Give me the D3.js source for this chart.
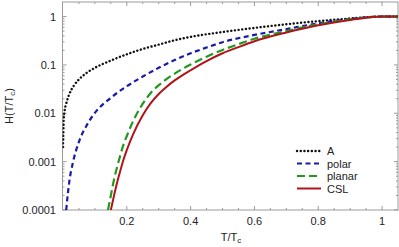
<!DOCTYPE html>
<meta charset="utf-8">
<script src="https://d3js.org/d3.v7.min.js"></script>
<style>
    body { margin: 0; background: white; }
    text { font-family: "Liberation Sans", Arial, sans-serif; }
</style>
<body>
<div id="chart"></div>
<script>
    var width = 399, height = 247;
    var plotLeft = 62.5, plotRight = 398, plotTop = 2, plotBottom = 210;

    // T/Tc grid and H values
    var tA = [0, 0.002, 0.005, 0.01, 0.02, 0.035, 0.05, 0.075, 0.1, 0.15, 0.2, 0.25, 0.3, 0.35, 0.4, 0.5, 0.6, 0.7, 0.8, 0.9, 1.0, 1.05];
    var hA = [0.002, 0.0071, 0.0112, 0.0158, 0.0251, 0.038, 0.0501, 0.0692, 0.0871, 0.123, 0.166, 0.214, 0.263, 0.324, 0.38, 0.479, 0.582, 0.692, 0.804, 0.912, 1.0, 1.0];

    var tPolar = [0.01, 0.02, 0.03, 0.05, 0.075, 0.1, 0.15, 0.2, 0.25, 0.3, 0.35, 0.4, 0.45, 0.5, 0.6, 0.7, 0.8, 0.9, 1.0, 1.05];
    var hPolar = [0.0001, 0.000398, 0.000891, 0.00257, 0.00575, 0.0102, 0.0209, 0.0363, 0.0575, 0.0871, 0.126, 0.174, 0.229, 0.295, 0.417, 0.55, 0.724, 0.891, 1.0, 1.0];

    var tPlanar = [0.141, 0.15, 0.16, 0.17, 0.18, 0.19, 0.2, 0.22, 0.25, 0.275, 0.3, 0.325, 0.35, 0.375, 0.4, 0.45, 0.5, 0.55, 0.6, 0.7, 0.8, 0.9, 1.0, 1.05];
    var hPlanar = [0.0001, 0.0002, 0.000427, 0.000794, 0.00138, 0.00229, 0.00339, 0.00692, 0.0158, 0.0263, 0.038, 0.0513, 0.0661, 0.0832, 0.102, 0.148, 0.204, 0.269, 0.347, 0.501, 0.692, 0.871, 1.0, 1.0];

    var tCSL = [0.15, 0.16, 0.17, 0.18, 0.19, 0.2, 0.22, 0.25, 0.275, 0.3, 0.325, 0.35, 0.375, 0.4, 0.45, 0.5, 0.55, 0.6, 0.7, 0.8, 0.9, 1.0, 1.05];
    var hCSL = [0.0001, 0.0002, 0.00038, 0.000661, 0.00112, 0.00174, 0.00372, 0.00912, 0.0162, 0.0251, 0.0355, 0.0479, 0.0617, 0.0776, 0.12, 0.174, 0.234, 0.309, 0.468, 0.661, 0.851, 1.0, 1.0];

    var xTicks = [0.2, 0.4, 0.6, 0.8, 1];
    var yTicks = [1, 0.1, 0.01, 0.001, 0.0001];
    var yTickLabels = ["1", "0.1", "0.01", "0.001", "0.0001"];

    var series = [
        { name: "A", t: tA, h: hA, color: "#111111", dash: "0.1,3.6", cap: "round", w: 2.4 },
        { name: "polar", t: tPolar, h: hPolar, color: "#1a1aa8", dash: "5,3.5", cap: "butt", w: 2.2 },
        { name: "planar", t: tPlanar, h: hPlanar, color: "#1f9a1f", dash: "8,4", cap: "butt", w: 2.2 },
        { name: "CSL", t: tCSL, h: hCSL, color: "#b0141a", dash: null, cap: "butt", w: 2 }
    ];

    var svg = d3.select("#chart").append("svg")
        .attr("width", width)
        .attr("height", height);

    var x = d3.scaleLinear().domain([0, 1.05]).range([plotLeft + 0.5, plotRight]);
    var y = d3.scaleLog().domain([0.0001, 2]).range([plotBottom, plotTop]);

    svg.append("defs").append("clipPath").attr("id", "clip")
        .append("rect").attr("x", plotLeft).attr("y", plotTop)
        .attr("width", plotRight - plotLeft).attr("height", plotBottom - plotTop);

    // minor ticks
    var xMinor = d3.range(0.05, 1.05, 0.05).filter(function (v) { return Math.abs(v * 5 - Math.round(v * 5)) > 1e-6; });
    var yMinor = [];
    [0.0001, 0.001, 0.01, 0.1, 1].forEach(function (d) {
        for (var k = 2; k <= 9; k++) if (d * k < 2) yMinor.push(d * k);
    });

    var frameColor = "#9a9a9a";
    var g = svg.append("g").attr("stroke", frameColor).attr("stroke-width", 1);

    xTicks.forEach(function (v) {
        g.append("line").attr("x1", x(v)).attr("x2", x(v)).attr("y1", plotBottom).attr("y2", plotBottom - 4);
        g.append("line").attr("x1", x(v)).attr("x2", x(v)).attr("y1", plotTop).attr("y2", plotTop + 4);
    });
    xMinor.forEach(function (v) {
        g.append("line").attr("x1", x(v)).attr("x2", x(v)).attr("y1", plotBottom).attr("y2", plotBottom - 2);
        g.append("line").attr("x1", x(v)).attr("x2", x(v)).attr("y1", plotTop).attr("y2", plotTop + 2);
    });
    yTicks.forEach(function (v) {
        g.append("line").attr("x1", plotLeft).attr("x2", plotLeft + 4).attr("y1", y(v)).attr("y2", y(v));
        g.append("line").attr("x1", plotRight).attr("x2", plotRight - 4).attr("y1", y(v)).attr("y2", y(v));
    });
    yMinor.forEach(function (v) {
        g.append("line").attr("x1", plotLeft).attr("x2", plotLeft + 2).attr("y1", y(v)).attr("y2", y(v));
        g.append("line").attr("x1", plotRight).attr("x2", plotRight - 2).attr("y1", y(v)).attr("y2", y(v));
    });

    g.append("rect")
        .attr("x", plotLeft).attr("y", plotTop)
        .attr("width", plotRight - plotLeft).attr("height", plotBottom - plotTop)
        .attr("fill", "none");

    // curves
    var line = d3.line()
        .x(function (d) { return x(d[0]); })
        .y(function (d) { return y(d[1]); })
        .curve(d3.curveMonotoneX);

    var curves = svg.append("g").attr("clip-path", "url(#clip)");
    series.forEach(function (s) {
        var pts = s.t.map(function (t, i) { return [t, s.h[i]]; });
        curves.append("path")
            .attr("d", line(pts))
            .attr("fill", "none")
            .attr("stroke", s.color)
            .attr("stroke-width", s.w)
            .attr("stroke-linecap", s.cap)
            .attr("stroke-dasharray", s.dash);
    });

    // tick labels
    svg.selectAll(".xl").data(xTicks).enter().append("text")
        .attr("x", function (d) { return x(d); })
        .attr("y", 225)
        .attr("text-anchor", "middle")
        .attr("font-size", 11)
        .attr("fill", "#222")
        .text(function (d) { return d; });

    svg.selectAll(".yl").data(yTicks).enter().append("text")
        .attr("x", 56)
        .attr("y", function (d) { return y(d) + 4; })
        .attr("text-anchor", "end")
        .attr("font-size", 11)
        .attr("fill", "#222")
        .text(function (d, i) { return yTickLabels[i]; });

    // axis labels
    var xl = svg.append("text")
        .attr("x", 231).attr("y", 241)
        .attr("text-anchor", "middle")
        .attr("font-size", 11)
        .attr("fill", "#222");
    xl.append("tspan").text("T/T");
    xl.append("tspan").attr("font-size", 8).attr("dy", 2).text("c");

    var yl = svg.append("text")
        .attr("transform", "translate(13,106) rotate(-90)")
        .attr("text-anchor", "middle")
        .attr("font-size", 11)
        .attr("fill", "#222");
    yl.append("tspan").text("H(T/T");
    yl.append("tspan").attr("font-size", 8).attr("dy", 2).text("c");
    yl.append("tspan").attr("dy", -2).text(")");

    // legend
    var legend = svg.append("g");
    series.forEach(function (s, i) {
        var ly = 151 + i * 12.5;
        legend.append("line")
            .attr("x1", 297).attr("x2", 321)
            .attr("y1", ly).attr("y2", ly)
            .attr("stroke", s.color)
            .attr("stroke-width", s.w)
            .attr("stroke-linecap", s.cap)
            .attr("stroke-dasharray", s.dash);
        legend.append("text")
            .attr("x", 327).attr("y", ly + 4)
            .attr("font-size", 11)
            .attr("fill", "#222")
            .text(s.name);
    });
</script>
</body>
